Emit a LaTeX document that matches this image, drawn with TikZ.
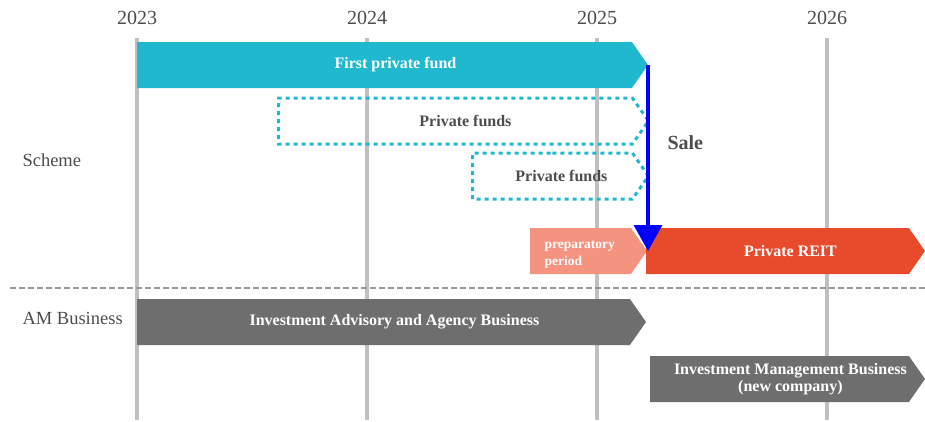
\documentclass[tikz,border=0pt]{standalone}
\usepackage{fontspec}
\setmainfont{Liberation Serif}
\usetikzlibrary{shapes.symbols,arrows.meta,positioning}
\definecolor{fundcyan}{HTML}{1FB8CE}
\definecolor{prepsalmon}{HTML}{F4937F}
\definecolor{reitred}{HTML}{E84A2C}
\definecolor{amgray}{HTML}{6E6E6E}
\definecolor{yeargray}{HTML}{C0C0C0}
\definecolor{labelgray}{HTML}{4D4D4D}
\begin{document}
\begin{tikzpicture}[x=1pt, y=-1pt, >=stealth]
  \tikzstyle{bar} = [signal, signal to=east, signal pointer angle=110, anchor=west,
                     minimum height=46pt, inner sep=0pt, outer sep=0pt,
                     text=white, font=\fontsize{16}{17}\selectfont\bfseries]
  \tikzstyle{dotbar} = [signal, signal to=east, signal pointer angle=110, anchor=west,
                        minimum height=46pt, inner sep=0pt, draw=fundcyan,
                        line width=3pt, dash pattern=on 4pt off 4pt,
                        text=labelgray, font=\fontsize{16}{17}\selectfont\bfseries]
  \tikzstyle{year} = [text=labelgray, font=\fontsize{20}{22}\selectfont]
  \tikzstyle{side} = [text=labelgray, anchor=west, font=\fontsize{18.5}{20}\selectfont]
  \useasboundingbox (0,0) rectangle (925,421);
  % year grid
  \foreach \yr/\xx in {2023/137, 2024/367, 2025/597, 2026/827} {
    \node[year] (y\yr) at (\xx,18) {\yr};
    \draw[yeargray, line width=4pt] (\xx,38) -- (\xx,420);
  }
  % separator
  \draw[gray!80, line width=1.5pt, dash pattern=on 6pt off 3pt] (10,288) -- (925,288);
  % row labels
  \node[side] (scheme) at (19,160) {Scheme};
  \node[side] (am) at (19,318) {AM Business};
  % scheme bars
  \node[bar, fill=fundcyan, minimum width=511pt] (fund1) at (137,65) {\hspace*{22pt}First private fund};
  \node[dotbar, minimum width=370pt] (funds2) at (277,121) {\hspace*{20pt}Private funds};
  \node[dotbar, minimum width=176pt] (funds3) at (471,176) {\hspace*{18pt}Private funds};
  \node[bar, fill=prepsalmon, minimum width=117pt] (prep) at (530,251) {};
  \node[text=white, anchor=west, align=left, font=\fontsize{13.5}{17}\selectfont\bfseries]
    (preptext) at (541,255) {preparatory\\period};
  \node[bar, fill=reitred, minimum width=279pt] (reit) at (646,251) {\hspace*{26pt}Private REIT};
  % AM business bars
  \node[bar, fill=amgray, minimum width=509pt] (advisory) at (137,322) {\hspace*{22pt}Investment Advisory and Agency Business};
  \node[bar, fill=amgray, minimum width=275pt, align=center] (mgmt) at (650,379)
    {\hspace*{22pt}Investment Management Business\\\hspace*{22pt}(new company)};
  % sale arrow
  \draw[blue, line width=3.5pt, -{Triangle[width=28pt,length=26pt]}] (fund1.east) -- (fund1.east |- reit.west);
  \node[text=labelgray, font=\fontsize{20}{22}\selectfont\bfseries, anchor=west] (sale) at (664,143) {Sale};
\end{tikzpicture}
\end{document}
